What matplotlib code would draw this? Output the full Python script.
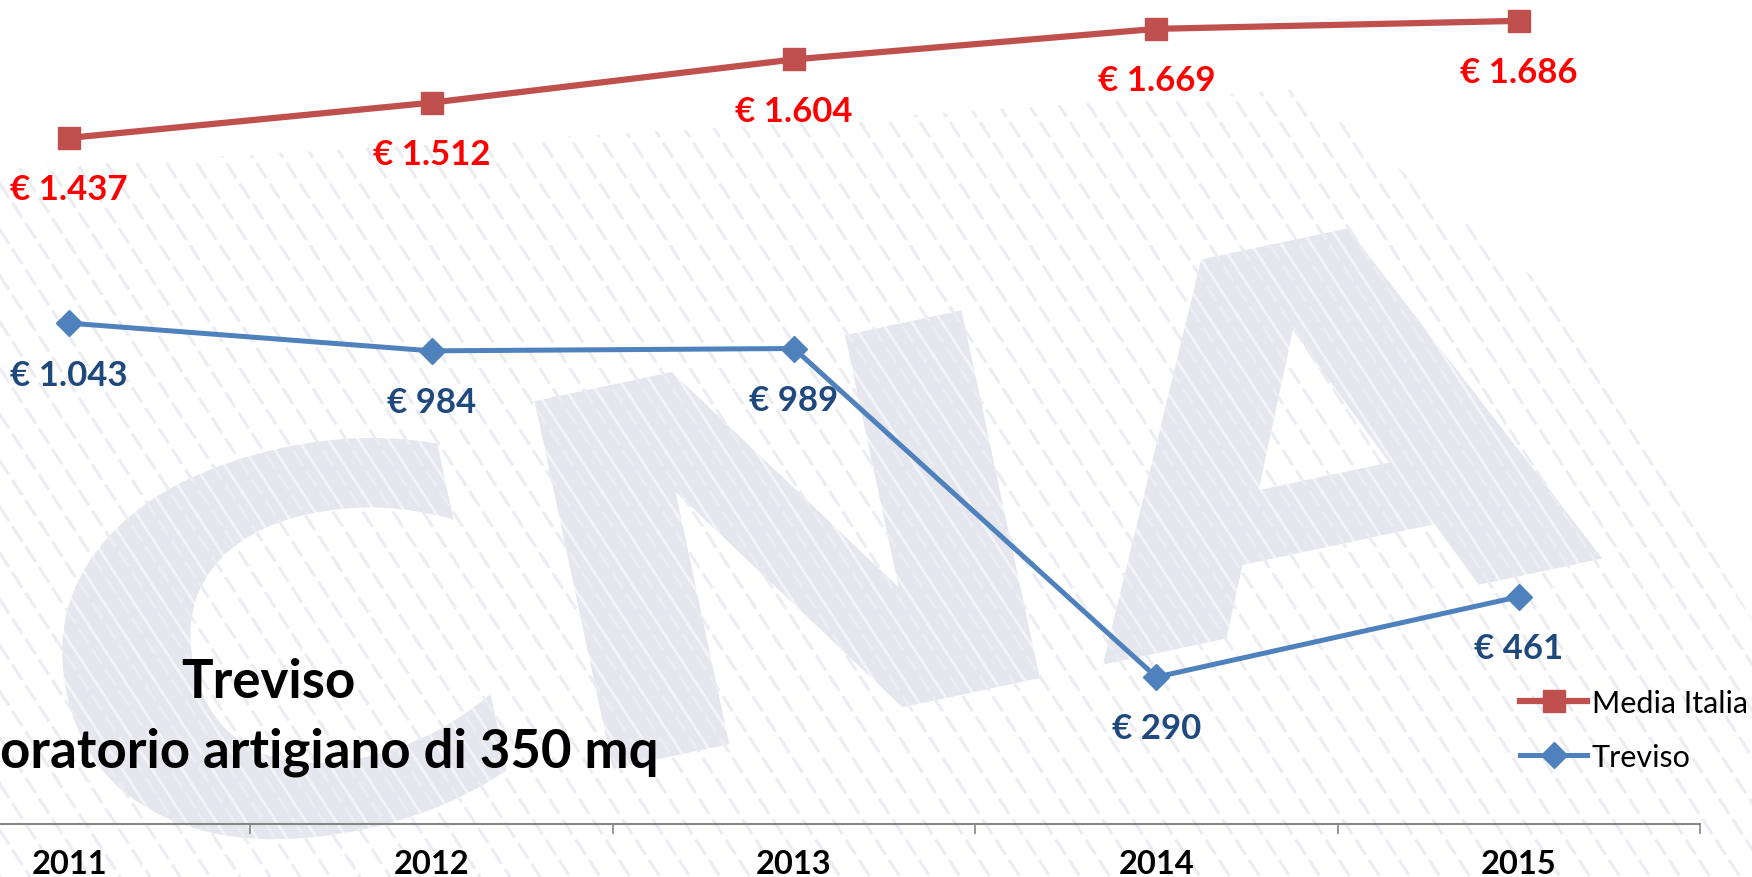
import numpy as np
import matplotlib
matplotlib.use("Agg")
import matplotlib.pyplot as plt
from matplotlib.patches import Polygon, PathPatch
from matplotlib.textpath import TextPath
from matplotlib.font_manager import FontProperties
from matplotlib.transforms import Affine2D

# data
years = ["2011", "2012", "2013", "2014", "2015"]
media_italia = [1437, 1512, 1604, 1669, 1686]
treviso = [1043, 984, 989, 290, 461]

W, H = 1752, 878
plt.rcParams['font.family'] = ['Lato', 'DejaVu Sans']

fig = plt.figure(figsize=(W / 100, H / 100), dpi=100)

# background layer in pixel coordinates: watermark + titles
bg = fig.add_axes([0, 0, 1, 1], zorder=0)
bg.set_xlim(0, W)
bg.set_ylim(H, 0)
bg.axis('off')

# CNA watermark: a wide, heavy logo, stretched text path
tp = TextPath((0, 0), 'CNA', size=1,
              prop=FontProperties(family='DejaVu Sans', weight='bold'))
ext = tp.get_extents()
trans = (Affine2D()
         .translate(-(ext.x0 + ext.x1) / 2, -(ext.y0 + ext.y1) / 2)
         .scale(1530 / ext.width, 390 / ext.height)
         .rotate_deg(12)
         .scale(1, -1)
         .translate(815, 535))
bg.add_patch(PathPatch(trans.transform_path(tp), facecolor='#E5E6EE',
                       edgecolor='none', zorder=0))

# diagonal hatching over the watermark area
clip = Polygon([(0, 170), (700, 130), (1300, 90), (1560, 300), (1752, 620),
                (1752, 878), (0, 878)],
               closed=True, transform=bg.transData, facecolor='none', edgecolor='none')
bg.add_patch(clip)
dx = H / np.tan(np.radians(57))
for c in np.arange(-900, W + 100, 30):
    l1, = bg.plot([c, c + dx], [0, H], color='#ECEDF2', lw=2.2,
                  dashes=(6, 2), zorder=1)
    l2, = bg.plot([c + 12, c + 12 + dx], [0, H], color='white', lw=2,
                  zorder=2, alpha=0.6)
    l1.set_clip_path(clip)
    l2.set_clip_path(clip)

bg.text(268, 698, 'Treviso', ha='center', va='baseline', fontsize=38,
        fontweight='bold', color='black', zorder=5)
bg.text(659, 768, 'Laboratorio artigiano di 350 mq', ha='right', va='baseline',
        fontsize=38, fontweight='bold', color='black', zorder=5)

# main chart, left part of the plot area is cut off as in the source
ax = fig.add_axes([-112 / W, 1 - 825 / H, 1812 / W, 825 / H], zorder=1)
ax.patch.set_alpha(0)
x = np.arange(len(years))

ax.plot(x, media_italia, color='#C0504D', lw=4.5, marker='s', ms=16,
        label='Media Italia', clip_on=False, zorder=3)
ax.plot(x, treviso, color='#4F81BD', lw=3.6, marker='D', ms=13,
        label='Treviso', clip_on=False, zorder=3)

for i, v in enumerate(media_italia):
    ax.annotate('€ ' + f'{v:,}'.replace(',', '.'), (i, v), xytext=(0, -37),
                textcoords='offset points', ha='center', va='center',
                color='#FF0000', fontsize=25, fontweight='bold')
for i, v in enumerate(treviso):
    ax.annotate('€ ' + f'{v:,}'.replace(',', '.'), (i, v), xytext=(0, -37),
                textcoords='offset points', ha='center', va='center',
                color='#1F497D', fontsize=25, fontweight='bold')

ax.set_xlim(-0.5, 4.5)
ax.set_ylim(-22.5, 1732.5)
for s in ['left', 'top', 'right']:
    ax.spines[s].set_visible(False)
ax.spines['bottom'].set_color('#868686')
ax.spines['bottom'].set_linewidth(1.5)
ax.set_yticks([])
ax.set_xticks(x)
ax.set_xticklabels(years, fontsize=23.5, fontweight='bold')
ax.set_xticks(list(x[:-1] + 0.5) + [4.5], minor=True)
ax.tick_params(axis='x', which='major', length=0, pad=18)
ax.tick_params(axis='x', which='minor', length=7, width=1.2, color='#868686',
               direction='out')

leg = ax.legend(loc='upper left', bbox_to_anchor=(1520 / W, 1 - 690 / H),
                bbox_transform=fig.transFigure, frameon=False, fontsize=22,
                handlelength=2.2, handletextpad=0.15, labelspacing=0.85,
                borderpad=0, borderaxespad=0)

plt.savefig('out.png', dpi=100)
